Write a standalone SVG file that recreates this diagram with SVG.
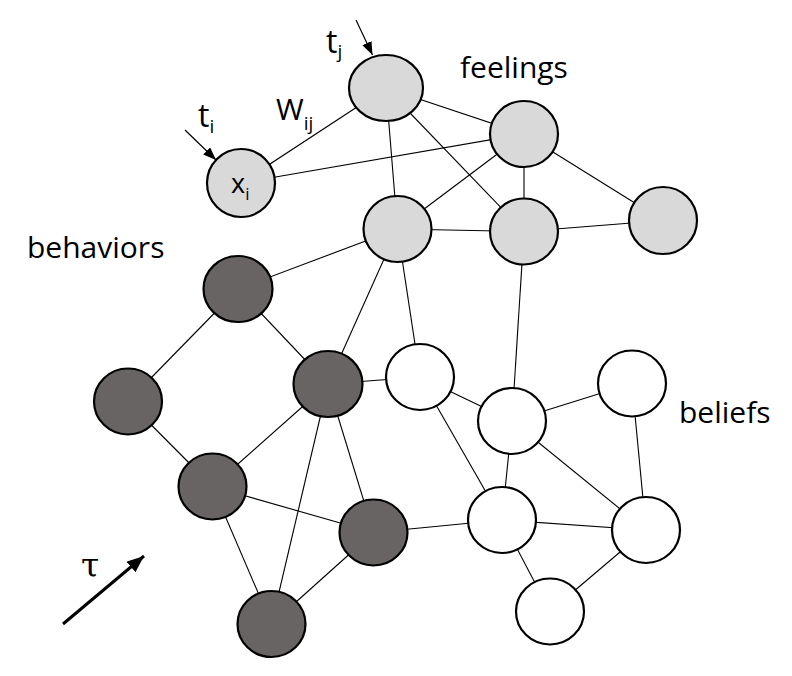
<svg xmlns="http://www.w3.org/2000/svg" width="792" height="676" viewBox="0 0 792 676">
<style>
.edge{stroke:#000;stroke-width:1.1;fill:none}
.node{stroke:#000;stroke-width:2.2}
.feel{fill:#d9d9d9}
.beh{fill:#686463}
.bel{fill:#fff}
.lbl{font-family:"Open Sans","Noto Sans",sans-serif;fill:#000}
</style>
<defs>
<marker id="ah" markerUnits="userSpaceOnUse" markerWidth="14" markerHeight="12" refX="13" refY="5" orient="auto">
<path d="M0,0 L13,5 L0,10 z" fill="#000"/>
</marker>
<marker id="ahb" markerUnits="userSpaceOnUse" markerWidth="18" markerHeight="16" refX="17" refY="7" orient="auto">
<path d="M0,0 L17,7 L0,14 z" fill="#000"/>
</marker>
</defs>
<rect width="792" height="676" fill="#fff"/>
<g id="connectors">
<line class="edge" x1="241" y1="183" x2="386" y2="88"/>
<line class="edge" x1="241" y1="183" x2="524" y2="134"/>
<line class="edge" x1="386" y1="88" x2="524" y2="134"/>
<line class="edge" x1="386" y1="88" x2="397.5" y2="229"/>
<line class="edge" x1="386" y1="88" x2="524" y2="231.5"/>
<line class="edge" x1="524" y1="134" x2="397.5" y2="229"/>
<line class="edge" x1="524" y1="134" x2="524" y2="231.5"/>
<line class="edge" x1="524" y1="134" x2="663" y2="220.5"/>
<line class="edge" x1="397.5" y1="229" x2="524" y2="231.5"/>
<line class="edge" x1="524" y1="231.5" x2="663" y2="220.5"/>
<line class="edge" x1="397.5" y1="229" x2="238" y2="289"/>
<line class="edge" x1="397.5" y1="229" x2="328" y2="384"/>
<line class="edge" x1="397.5" y1="229" x2="420" y2="377"/>
<line class="edge" x1="524" y1="231.5" x2="512" y2="421"/>
<line class="edge" x1="238" y1="289" x2="128" y2="401.5"/>
<line class="edge" x1="238" y1="289" x2="328" y2="384"/>
<line class="edge" x1="128" y1="401.5" x2="212.5" y2="486.5"/>
<line class="edge" x1="328" y1="384" x2="420" y2="377"/>
<line class="edge" x1="328" y1="384" x2="212.5" y2="486.5"/>
<line class="edge" x1="328" y1="384" x2="271.5" y2="624"/>
<line class="edge" x1="328" y1="384" x2="373.5" y2="532.5"/>
<line class="edge" x1="212.5" y1="486.5" x2="373.5" y2="532.5"/>
<line class="edge" x1="212.5" y1="486.5" x2="271.5" y2="624"/>
<line class="edge" x1="373.5" y1="532.5" x2="271.5" y2="624"/>
<line class="edge" x1="373.5" y1="532.5" x2="502" y2="520"/>
<line class="edge" x1="420" y1="377" x2="512" y2="421"/>
<line class="edge" x1="420" y1="377" x2="502" y2="520"/>
<line class="edge" x1="512" y1="421" x2="632" y2="383.5"/>
<line class="edge" x1="512" y1="421" x2="502" y2="520"/>
<line class="edge" x1="512" y1="421" x2="646" y2="530"/>
<line class="edge" x1="632" y1="383.5" x2="646" y2="530"/>
<line class="edge" x1="502" y1="520" x2="646" y2="530"/>
<line class="edge" x1="502" y1="520" x2="550" y2="611.5"/>
<line class="edge" x1="646" y1="530" x2="550" y2="611.5"/>
<line x1="356" y1="20" x2="372.5" y2="55" stroke="#000" stroke-width="1.2" marker-end="url(#ah)"/>
<line x1="185" y1="130" x2="216" y2="160" stroke="#000" stroke-width="1.2" marker-end="url(#ah)"/>
<line x1="63" y1="624" x2="144" y2="556" stroke="#000" stroke-width="3" marker-end="url(#ahb)"/>
</g>
<g id="F1"><ellipse class="node feel" cx="386" cy="88" rx="37" ry="33"/></g>
<g id="F2"><ellipse class="node feel" cx="524" cy="134" rx="34" ry="33"/></g>
<g id="F3"><ellipse class="node feel" cx="241" cy="183" rx="34" ry="34"/>
<text class="lbl" x="231" y="193" font-size="27">x<tspan font-size="17" dy="7">i</tspan></text></g>
<g id="F4"><ellipse class="node feel" cx="397.5" cy="229" rx="34" ry="33"/></g>
<g id="F5"><ellipse class="node feel" cx="524" cy="231.5" rx="34" ry="33"/></g>
<g id="F6"><ellipse class="node feel" cx="663" cy="220.5" rx="34" ry="33.5"/></g>
<g id="B1"><ellipse class="node beh" cx="238" cy="289" rx="34.5" ry="33"/></g>
<g id="B2"><ellipse class="node beh" cx="128" cy="401.5" rx="34" ry="33"/></g>
<g id="B3"><ellipse class="node beh" cx="328" cy="384" rx="34.5" ry="33"/></g>
<g id="B4"><ellipse class="node beh" cx="212.5" cy="486.5" rx="34" ry="33"/></g>
<g id="B5"><ellipse class="node beh" cx="373.5" cy="532.5" rx="34" ry="33"/></g>
<g id="B6"><ellipse class="node beh" cx="271.5" cy="624" rx="34" ry="33"/></g>
<g id="W1"><ellipse class="node bel" cx="420" cy="377" rx="34" ry="33"/></g>
<g id="W2"><ellipse class="node bel" cx="512" cy="421" rx="34" ry="33"/></g>
<g id="W3"><ellipse class="node bel" cx="632" cy="383.5" rx="34" ry="33"/></g>
<g id="W4"><ellipse class="node bel" cx="502" cy="520" rx="34" ry="33"/></g>
<g id="W5"><ellipse class="node bel" cx="646" cy="530" rx="34" ry="33"/></g>
<g id="W6"><ellipse class="node bel" cx="550" cy="611.5" rx="34" ry="33"/></g>
<g id="labels">
<text class="lbl" x="460" y="78" font-size="30">feelings</text>
<text class="lbl" x="27" y="258" font-size="30">behaviors</text>
<text class="lbl" x="679" y="423" font-size="30">beliefs</text>
<text class="lbl" x="326" y="53" font-size="32">t<tspan font-size="19" dy="5">j</tspan></text>
<text class="lbl" x="198" y="127" font-size="32">t<tspan font-size="19" dy="6">i</tspan></text>
<text class="lbl" x="276" y="120" font-size="30">W<tspan font-size="19" dy="10">ij</tspan></text>
<text x="81" y="577" font-size="33" font-family="'DejaVu Serif','Liberation Serif',serif">τ</text>
</g>
</svg>
